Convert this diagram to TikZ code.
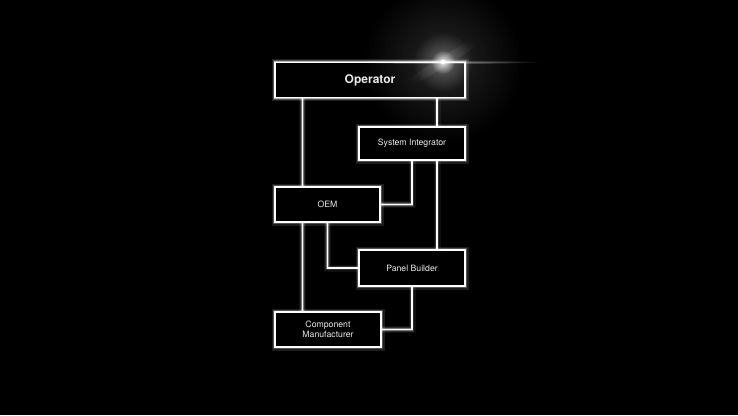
\documentclass[tikz,border=0pt]{standalone}
\usepackage{fontspec}
\setmainfont{TeX Gyre Heros}
\usetikzlibrary{calc,fadings}
\tikzfading[name=glowfade, inner color=transparent!0, outer color=transparent!100]
\begin{document}
\begin{tikzpicture}[x=1pt,y=-1pt,
  glowline/.style={draw=white, line width=1.4pt,
    preaction={draw=white, line width=7pt, opacity=0.06},
    preaction={draw=white, line width=4.5pt, opacity=0.13},
    preaction={draw=white, line width=2.8pt, opacity=0.35}},
  box/.style={rectangle, glowline, fill=black, text=white!92!black, align=center,
    font=\fontsize{8.7}{10}\selectfont, inner sep=0pt},
  opbox/.style={box, minimum width=190pt, minimum height=35pt, font=\bfseries\fontsize{12}{14}\selectfont},
  conn/.style={glowline}]
\fill[black] (0,0) rectangle (738,415);
\useasboundingbox (0,0) rectangle (738,415);
% nodes (placed first to name them)
\node[opbox] (op) at (370,80) {Operator};
\node[box, minimum width=106pt, minimum height=33pt] (si) at (412,143.5) {System Integrator};
\node[box, minimum width=105pt, minimum height=35pt] (oem) at (327.5,204.5) {OEM};
\node[box, minimum width=106pt, minimum height=36pt] (pb) at (412,268) {Panel Builder};
\node[box, minimum width=106pt, minimum height=35pt] (cm) at (328,329.5) {Component\\Manufacturer};
% connectors
\draw[conn] ([xshift=28pt]oem.north west) -- ([xshift=28pt]oem.north west |- op.south);
\draw[conn] ([xshift=25pt]si.north) -- ([xshift=25pt]si.north |- op.south);
\draw[conn] (si.south) |- (oem.east);
\draw[conn] ([xshift=25pt]si.south) -- ([xshift=25pt]pb.north);
\draw[conn] (oem.south) |- (pb.west);
\draw[conn] ([xshift=28pt]oem.south west) -- ([xshift=28pt]oem.south west |- cm.north);
\draw[conn] (pb.south) |- (cm.east);
% redraw boxes on top of connector glow
\node[opbox] at (op) {Operator};
\node[box, minimum width=106pt, minimum height=33pt] at (si) {System Integrator};
\node[box, minimum width=105pt, minimum height=35pt] at (oem) {OEM};
\node[box, minimum width=106pt, minimum height=36pt] at (pb) {Panel Builder};
\node[box, minimum width=106pt, minimum height=35pt] at (cm) {Component\\Manufacturer};
% flare
\coordinate (flare) at (443,62);
\fill[white, path fading=glowfade, fill opacity=0.15] (flare) circle (80pt);
\fill[white, path fading=glowfade, fill opacity=0.3] (flare) circle (30pt);
\fill[white, path fading=glowfade, fill opacity=0.8] (flare) circle (12pt);
\fill[white, opacity=0.9] (flare) circle (2.5pt);
\fill[white, path fading=glowfade, fill opacity=0.5] (flare) ellipse (100pt and 2pt);
\fill[white, path fading=glowfade, fill opacity=0.12, rotate around={32:(flare)}] (flare) ellipse (55pt and 5pt);
\end{tikzpicture}
\end{document}
